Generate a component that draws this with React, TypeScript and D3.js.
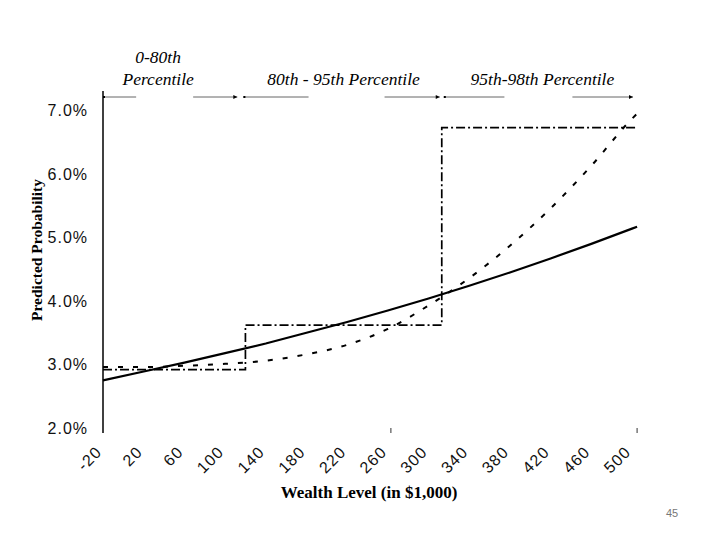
import React, {Component} from 'react';
import * as d3 from "d3"

// wealth in $1,000 and the three predicted probability curves (in %)
const wealth = [-20, 20, 60, 100, 140, 180, 220, 260, 300, 340, 380, 420, 460, 500, 505]
const solidProb = [2.75, 2.89, 3.03, 3.18, 3.33, 3.50, 3.67, 3.85, 4.04, 4.24, 4.45, 4.67, 4.90, 5.14, 5.17]
const dashedProb = [2.96, 2.96, 2.98, 3.01, 3.06, 3.16, 3.31, 3.56, 3.93, 4.36, 4.87, 5.46, 6.13, 6.87, 6.95]
// step function (percentile groups)
const stepEdges = [-20, 120, 313, 505]
const stepProb = [2.92, 3.62, 6.73]

const xTicks = [-20, 20, 60, 100, 140, 180, 220, 260, 300, 340, 380, 420, 460, 500]
const yTicks = [2, 3, 4, 5, 6, 7]

const bandStart = [-20, 118, 315]
const bandEnd = [112, 311, 501]
const bandLabels = [["0-80th", "Percentile"], ["80th - 95th Percentile"], ["95th-98th Percentile"]]

interface WealthChartProps {}
interface WealthChartState {}

class WealthChart extends Component<WealthChartProps, WealthChartState> {
  renderChart() {
    const root = d3.select("#WealthChart")
    root.selectAll("*").remove()
    const width = 720
    const height = 540

    const svg = root.append("svg")
      .attr("width", width).attr("height", height)
      .style("position", "absolute").style("left", 0).style("top", 0)
      .style("background", "#fff")

    const x = d3.scaleLinear().domain([-20, 500]).range([103, 632])
    const y = d3.scaleLinear().domain([2, 7]).range([428, 110.5])

    const sans = "'Liberation Sans', Arial, sans-serif"
    const serif = "'Liberation Serif', 'Times New Roman', serif"

    // y axis line
    svg.append("line")
      .attr("x1", x(-20)).attr("x2", x(-20))
      .attr("y1", 91).attr("y2", 433)
      .attr("stroke", "#000").attr("stroke-width", 1.5)

    // y tick labels
    svg.append("g").selectAll("text")
      .data(yTicks)
      .join("text")
      .attr("x", 88)
      .attr("y", d => y(d))
      .attr("dy", "0.36em")
      .attr("text-anchor", "end")
      .attr("font-family", sans)
      .attr("font-size", 16)
      .attr("letter-spacing", 1)
      .attr("fill", "#111")
      .text(d => d3.format(".1f")(d) + "%")

    // x tick labels, rotated
    svg.append("g").selectAll("text")
      .data(xTicks)
      .join("text")
      .attr("transform", d => `translate(${x(d) - 8},${445}) rotate(-45)`)
      .attr("dy", "0.7em")
      .attr("text-anchor", "end")
      .attr("font-family", sans)
      .attr("font-size", 16)
      .attr("letter-spacing", 1.2)
      .attr("fill", "#111")
      .text(d => d)

    // stray tick marks at the bottom
    svg.append("g").selectAll("line")
      .data([263, 505])
      .join("line")
      .attr("x1", d => x(d)).attr("x2", d => x(d))
      .attr("y1", 428).attr("y2", 433)
      .attr("stroke", "#333").attr("stroke-width", 1)

    // axis titles
    svg.append("text")
      .attr("x", 369).attr("y", 498)
      .attr("text-anchor", "middle")
      .attr("font-family", serif)
      .attr("font-weight", "bold")
      .attr("font-size", 17)
      .text("Wealth Level (in $1,000)")

    svg.append("text")
      .attr("transform", "translate(42,250) rotate(-90)")
      .attr("text-anchor", "middle")
      .attr("font-family", serif)
      .attr("font-weight", "bold")
      .attr("font-size", 15.5)
      .text("Predicted Probability")

    // percentile bands on top
    const bandY = 97
    const gapShift = [-5.5, 5, 0]
    const gapHalf = [28.5, 38, 34]
    const textShift = [-12, 2, 4]
    const band = svg.append("g")
    bandStart.forEach((s, i) => {
      const x0 = x(s)
      const x1 = x(bandEnd[i])
      const cx = (x0 + x1) / 2
      const gc = cx + gapShift[i]
      band.append("line")
        .attr("x1", x0).attr("x2", gc - gapHalf[i]).attr("y1", bandY).attr("y2", bandY)
        .attr("stroke", "#666").attr("stroke-width", 1)
      band.append("line")
        .attr("x1", gc + gapHalf[i]).attr("x2", x1).attr("y1", bandY).attr("y2", bandY)
        .attr("stroke", "#666").attr("stroke-width", 1)
      band.append("rect")
        .attr("x", x0).attr("y", bandY - 1).attr("width", 2).attr("height", 2)
        .attr("fill", "#000")
      band.append("path")
        .attr("d", `M${x1 - 4},${bandY - 2}L${x1},${bandY}L${x1 - 4},${bandY + 2}Z`)
        .attr("fill", "#000")
      const lines = bandLabels[i]
      lines.forEach((t, j) => {
        band.append("text")
          .attr("x", cx + textShift[i])
          .attr("y", 85 - (lines.length - 1 - j) * 22)
          .attr("text-anchor", "middle")
          .attr("font-family", serif)
          .attr("font-style", "italic")
          .attr("font-size", 17.5)
          .text(t)
      })
    })

    // solid curve
    const line = d3.line<number>()
      .x((d, i) => x(wealth[i]))
      .y(d => y(d))

    svg.append("path")
      .datum(solidProb)
      .attr("d", line)
      .attr("fill", "none")
      .attr("stroke", "#000")
      .attr("stroke-width", 2.2)

    // dashed curve
    svg.append("path")
      .datum(dashedProb)
      .attr("d", line.curve(d3.curveMonotoneX))
      .attr("fill", "none")
      .attr("stroke", "#000")
      .attr("stroke-width", 2)
      .attr("stroke-dasharray", "5,10")

    // dash-dot step function
    const stepPts: [number, number][] = []
    stepProb.forEach((p, i) => {
      stepPts.push([stepEdges[i], p])
      stepPts.push([stepEdges[i + 1], p])
    })
    svg.append("path")
      .datum(stepPts)
      .attr("d", d3.line<[number, number]>().x(d => x(d[0])).y(d => y(d[1])))
      .attr("fill", "none")
      .attr("stroke", "#000")
      .attr("stroke-width", 1.7)
      .attr("stroke-dasharray", "9,3,2,3")

    // page number
    svg.append("text")
      .attr("x", 672).attr("y", 517)
      .attr("text-anchor", "middle")
      .attr("font-family", sans)
      .attr("font-size", 11)
      .attr("fill", "#777")
      .text("45")
  }

  componentDidMount() {
    this.renderChart()
  }

  public render(): JSX.Element {
    return (
      <div id='WealthChart' style={{width: 720, height: 540}}></div>
    )
  }
}

export default function App() {
  return <WealthChart />
}
